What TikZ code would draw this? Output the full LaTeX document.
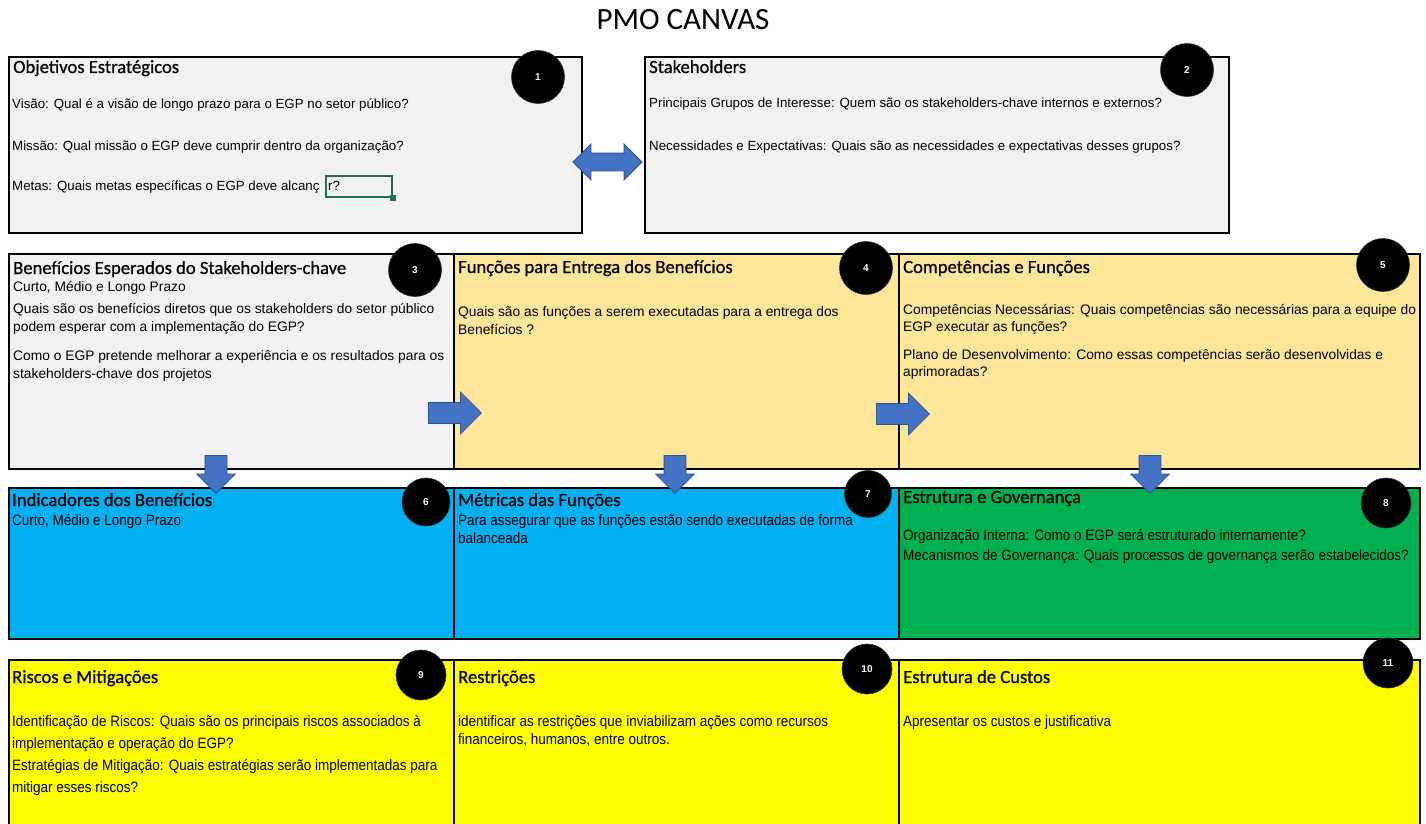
\documentclass[tikz,border=0pt]{standalone}
\usepackage{fontspec}
\setmainfont{Liberation Sans}
\newfontfamily\titlefont[FakeBold=0.7]{Carlito}
\newfontfamily\bigtitlefont{Carlito}
\newfontfamily\narrowfont[FakeStretch=0.9]{Liberation Sans}
\usetikzlibrary{shapes.arrows}
\definecolor{cgray}{HTML}{F2F2F2}
\definecolor{corange}{HTML}{FFE699}
\definecolor{cblue}{HTML}{00B0F0}
\definecolor{cgreen}{HTML}{00B050}
\definecolor{cyellow}{HTML}{FFFF00}
\definecolor{arrowblue}{HTML}{4472C4}
\definecolor{arrowedge}{HTML}{2F528F}
\definecolor{excelgreen}{HTML}{217346}
\tikzset{
  box/.style={draw=black, line width=2pt, inner sep=0pt, anchor=north west},
  ttl/.style={anchor=base west, inner sep=0pt, font=\titlefont\fontsize{18.6}{20}\selectfont},
  bodyA/.style={anchor=base west, inner sep=0pt, font=\fontsize{13.3}{15}\selectfont},
  bodyB/.style={anchor=base west, inner sep=0pt, font=\fontsize{13.8}{16}\selectfont},
  bodyC/.style={anchor=base west, inner sep=0pt, font=\narrowfont\fontsize{15}{17}\selectfont},
  num/.style={circle, fill=black, draw=black!80, line width=0.6pt, minimum size=53pt, inner sep=0pt, text=white, font=\bfseries\fontsize{10}{12}\selectfont},
  rarrow/.style={single arrow, draw=arrowedge, fill=arrowblue, line width=0.8pt, inner sep=10pt, single arrow head extend=10.5pt, minimum height=53pt, anchor=tail},
  darrow/.style={single arrow, draw=arrowedge, fill=arrowblue, line width=0.8pt, inner sep=10.5pt, single arrow head extend=8.5pt, minimum height=38pt, anchor=tail, rotate=-90},
  dblarrow/.style={double arrow, draw=arrowedge, fill=arrowblue, line width=0.8pt, inner sep=8.5pt, double arrow head extend=9pt, minimum height=69pt}
}
\begin{document}
\begin{tikzpicture}[x=1pt,y=-1pt]
\path[use as bounding box] (0,0) rectangle (1426,824);
\fill[white] (0,0) rectangle (1426,824);
\begin{scope}
\clip (0,0) rectangle (1426,824);
% title
\node[anchor=base, inner sep=0pt, font=\bigtitlefont\fontsize{31}{34}\selectfont] (title) at (683,30) {PMO CANVAS};
% row 1
\node[box, fill=cgray, minimum width=573pt, minimum height=176pt] (b1) at (8,56) {};
\node[box, fill=cgray, minimum width=584pt, minimum height=176pt] (b2) at (644,56) {};
% row 2
\node[box, fill=cgray, minimum width=445pt, minimum height=215pt] (b3) at (8,253) {};
\node[box, fill=corange, minimum width=445pt, minimum height=215pt] (b4) at (453,253) {};
\node[box, fill=corange, minimum width=521pt, minimum height=215pt] (b5) at (898,253) {};
% row 3
\node[box, fill=cblue, minimum width=445pt, minimum height=151pt] (b6) at (8,487) {};
\node[box, fill=cblue, minimum width=445pt, minimum height=151pt] (b7) at (453,487) {};
\node[box, fill=cgreen, minimum width=521pt, minimum height=151pt] (b8) at (898,487) {};
% row 4
\node[box, fill=cyellow, minimum width=445pt, minimum height=190pt] (b9) at (8,659) {};
\node[box, fill=cyellow, minimum width=445pt, minimum height=190pt] (b10) at (453,659) {};
\node[box, fill=cyellow, minimum width=521pt, minimum height=190pt] (b11) at (898,659) {};

% number circles
\node[num] (c1) at (538,77) {1};
\node[num] (c2) at (1187,70) {2};
\node[num] (c3) at (415,270) {3};
\node[num] (c4) at (866,268) {4};
\node[num] (c5) at (1383,265) {5};
\node[num, minimum size=48pt] (c6) at (426,502) {6};
\node[num, minimum size=47pt] (c7) at (868,494) {7};
\node[num, minimum size=50pt] (c8) at (1386,503) {8};
\node[num, minimum size=50pt] (c9) at (421,675) {9};
\node[num, minimum size=50pt] (c10) at (867,669) {10};
\node[num, minimum size=50pt] (c11) at (1388,663) {11};

% texts box 1
\node[ttl] (t1) at (13,73) {Objetivos Estratégicos};
\node[bodyA] (t1a) at (12,109) {Visão: Qual é a visão de longo prazo para o EGP no setor público?};
\node[bodyA] (t1b) at (12,150) {Missão: Qual missão o EGP deve cumprir dentro da organização?};
\node[bodyA] (t1c) at (12,190) {Metas: Quais metas específicas o EGP deve alcanç};
\node[draw=excelgreen, line width=2pt, minimum width=66pt, minimum height=21pt, inner sep=0pt, anchor=north west] (sel) at (325,175) {};
\node[fill=excelgreen, minimum size=6pt, inner sep=0pt] (selh) at (sel.south east) {};
\node[bodyA] (t1d) at (328,190) {r?};
% box 2
\node[ttl] (t2) at (649,73) {Stakeholders};
\node[bodyA] (t2a) at (649,108) {Principais Grupos de Interesse: Quem são os stakeholders-chave internos e externos?};
\node[bodyA] (t2b) at (649,150) {Necessidades e Expectativas: Quais são as necessidades e expectativas desses grupos?};
% box 3
\node[ttl] (t3) at (13,274) {Benefícios Esperados do Stakeholders-chave};
\node[bodyB] (t3a) at (13,291) {Curto, Médio e Longo Prazo};
\node[bodyB] (t3b) at (13,313) {Quais são os benefícios diretos que os stakeholders do setor público};
\node[bodyB] (t3c) at (13,331) {podem esperar com a implementação do EGP?};
\node[bodyB] (t3d) at (13,360) {Como o EGP pretende melhorar a experiência e os resultados para os};
\node[bodyB] (t3e) at (13,378) {stakeholders-chave dos projetos};
% box 4
\node[ttl] (t4) at (458,273) {Funções para Entrega dos Benefícios};
\node[bodyB] (t4a) at (458,316) {Quais são as funções a serem executadas para a entrega dos};
\node[bodyB] (t4b) at (458,334) {Benefícios ?};
% box 5
\node[ttl] (t5) at (903,273) {Competências e Funções};
\node[bodyB] (t5a) at (903,314) {Competências Necessárias: Quais competências são necessárias para a equipe do};
\node[bodyB] (t5b) at (903,331) {EGP executar as funções?};
\node[bodyB] (t5c) at (903,359) {Plano de Desenvolvimento: Como essas competências serão desenvolvidas e};
\node[bodyB] (t5d) at (903,376) {aprimoradas?};
% box 6
\node[ttl] (t6) at (12,506) {Indicadores dos Benefícios};
\node[bodyC] (t6a) at (12,525) {Curto, Médio e Longo Prazo};
% box 7
\node[ttl] (t7) at (458,506) {Métricas das Funções};
\node[bodyC] (t7a) at (458,525) {Para assegurar que as funções estão sendo executadas de forma};
\node[bodyC] (t7b) at (458,543) {balanceada};
% box 8
\node[ttl] (t8) at (903,503) {Estrutura e Governança};
\node[bodyC] (t8a) at (903,540) {Organização Interna: Como o EGP será estruturado internamente?};
\node[bodyC] (t8b) at (903,560) {Mecanismos de Governança: Quais processos de governança serão estabelecidos?};
% box 9
\node[ttl] (t9) at (12,683) {Riscos e Mitigações};
\node[bodyC] (t9a) at (12,726) {Identificação de Riscos: Quais são os principais riscos associados à};
\node[bodyC] (t9b) at (12,748) {implementação e operação do EGP?};
\node[bodyC] (t9c) at (12,770) {Estratégias de Mitigação: Quais estratégias serão implementadas para};
\node[bodyC] (t9d) at (12,792) {mitigar esses riscos?};
% box 10
\node[ttl] (t10) at (458,683) {Restrições};
\node[bodyC] (t10a) at (458,726) {identificar as restrições que inviabilizam ações como recursos};
\node[bodyC] (t10b) at (458,744) {financeiros, humanos, entre outros.};
% box 11
\node[ttl] (t11) at (903,683) {Estrutura de Custos};
\node[bodyC] (t11a) at (903,726) {Apresentar os custos e justificativa};

% arrows
\node[dblarrow] (a12) at (607.5,162) {};
\node[rarrow] (a34) at (428,413) {};
\node[rarrow] (a45) at (876,414) {};
\node[darrow] (a36) at (216,455) {};
\node[darrow] (a47) at (675,455) {};
\node[darrow] (a58) at (1150,455) {};
\end{scope}
\end{tikzpicture}
\end{document}
